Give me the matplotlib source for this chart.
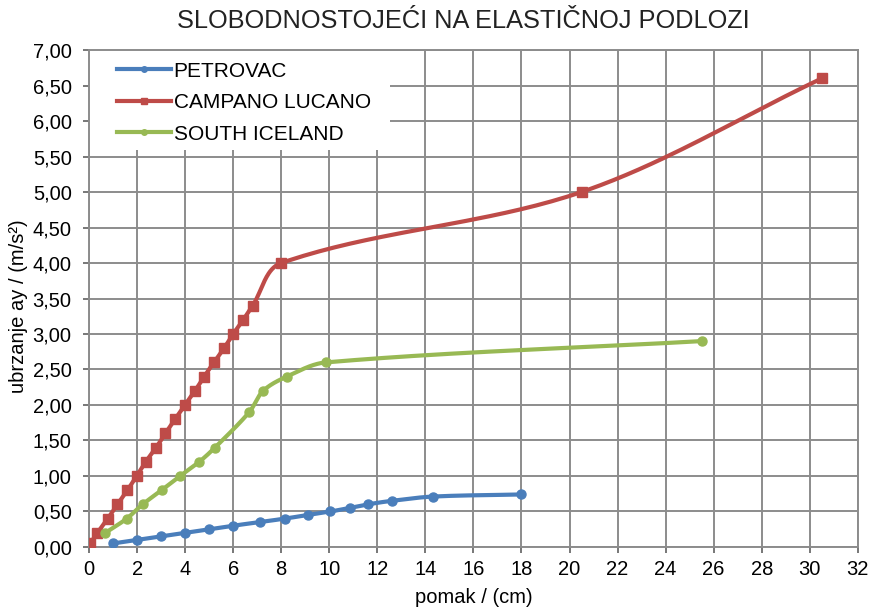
import numpy as np
import matplotlib.pyplot as plt
from matplotlib.patches import Rectangle
from matplotlib.ticker import FuncFormatter, MultipleLocator

# pomak (cm) / ubrzanje (m/s2)
petrovac_x = [1.0, 2.0, 3.0, 4.0, 5.0, 6.0, 7.1, 8.15, 9.1, 10.05, 10.85, 11.6, 12.6, 14.3, 18.0]
petrovac_y = [0.05, 0.10, 0.15, 0.20, 0.25, 0.30, 0.35, 0.40, 0.45, 0.50, 0.55, 0.60, 0.65, 0.71, 0.74]

campano_x = [0.05, 0.35, 0.78, 1.18, 1.6, 1.98, 2.36, 2.79, 3.18, 3.58, 4.0, 4.41, 4.79,
             5.2, 5.62, 6.0, 6.42, 6.81, 8.0, 20.5, 30.5]
campano_y = [0.05, 0.2, 0.4, 0.6, 0.8, 1.0, 1.2, 1.4, 1.6, 1.8, 2.0, 2.2, 2.4,
             2.6, 2.8, 3.0, 3.2, 3.4, 4.0, 5.0, 6.6]

iceland_x = [0.68, 1.57, 2.23, 3.02, 3.79, 4.59, 5.24, 6.67, 7.25, 8.23, 9.86, 25.5]
iceland_y = [0.2, 0.4, 0.6, 0.8, 1.0, 1.2, 1.4, 1.9, 2.2, 2.4, 2.6, 2.9]

YSCALE = 71 / 24.03  # pixel aspect of one y unit vs one x unit


def smooth(x, y, n=40):
    # cubic bezier through the points, tangents scaled by chord length
    p = np.column_stack([x, np.asarray(y) * YSCALE]).astype(float)
    m = len(p)
    tang = []
    for i in range(m):
        a = p[max(i - 1, 0)]
        b = p[min(i + 1, m - 1)]
        d = b - a
        tang.append(d / np.hypot(*d))
    out = [p[:1]]
    for i in range(m - 1):
        p1, p2 = p[i], p[i + 1]
        L = np.hypot(*(p2 - p1))
        c1 = p1 + tang[i] * L / 3
        c2 = p2 - tang[i + 1] * L / 3
        s = np.linspace(0, 1, n)[1:, None]
        seg = ((1 - s) ** 3 * p1 + 3 * (1 - s) ** 2 * s * c1
               + 3 * (1 - s) * s ** 2 * c2 + s ** 3 * p2)
        out.append(seg)
    q = np.vstack(out)
    return q[:, 0], q[:, 1] / YSCALE


plt.rcParams['font.family'] = ['Liberation Sans', 'DejaVu Sans']
fig = plt.figure(figsize=(8.78, 6.10), dpi=100)
ax = fig.add_axes([0.1014, 0.1033, 0.8756, 0.8147])

series = [
    ('PETROVAC', petrovac_x, petrovac_y, '#4A7EBB', 'o', 6.5),
    ('CAMPANO LUCANO', campano_x, campano_y, '#BE4B48', 's', 6.5),
    ('SOUTH ICELAND', iceland_x, iceland_y, '#98B954', 'o', 6.5),
]
for name, xs, ys, col, mk, ms in series:
    sx, sy = smooth(xs, ys)
    ax.plot(sx, sy, color=col, lw=3, solid_capstyle='round', zorder=3)
    ax.plot(xs, ys, ls='none', marker=mk, ms=ms, color=col, zorder=4)
    ax.plot([], [], color=col, lw=3, marker=mk, ms=4, label=name)

ax.set_xlim(0, 32)
ax.set_ylim(0, 7)
ax.xaxis.set_major_locator(MultipleLocator(2))
ax.yaxis.set_major_locator(MultipleLocator(0.5))
ax.yaxis.set_major_formatter(FuncFormatter(lambda v, _: f'{v:.2f}'.replace('.', ',')))
ax.grid(True, color='#8c8c8c', lw=1.4)
ax.set_axisbelow(True)
for s in ax.spines.values():
    s.set_color('#8c8c8c')
    s.set_linewidth(1.4)
ax.tick_params(direction='out', length=4.5, width=1.2, color='#606060', labelsize=14.5)
ax.tick_params(axis='x', pad=5)
ax.tick_params(axis='y', pad=8)

# white area behind the legend
ax.add_patch(Rectangle((0, 0.799), 0.392, 0.201, transform=ax.transAxes,
                       facecolor='white', edgecolor='none', zorder=1))

ax.set_xlabel('pomak / (cm)', fontsize=14.5)
ax.xaxis.set_label_coords(0.5, -0.082)
ax.set_ylabel('ubrzanje ay / (m/s²)', fontsize=14.5)
ax.yaxis.set_label_coords(-0.079, 0.485)
fig.text(0.528, 0.965, 'SLOBODNOSTOJEĆI NA ELASTIČNOJ PODLOZI', fontsize=18.3,
         ha='center', va='center', color='#222222')

leg = ax.legend(loc='upper left', bbox_to_anchor=(0.018, 1.006), frameon=False, fontsize=15,
                handlelength=2.55, handletextpad=0.15, labelspacing=0.6, borderaxespad=0.3)

fig.savefig('out.png', dpi=100)
